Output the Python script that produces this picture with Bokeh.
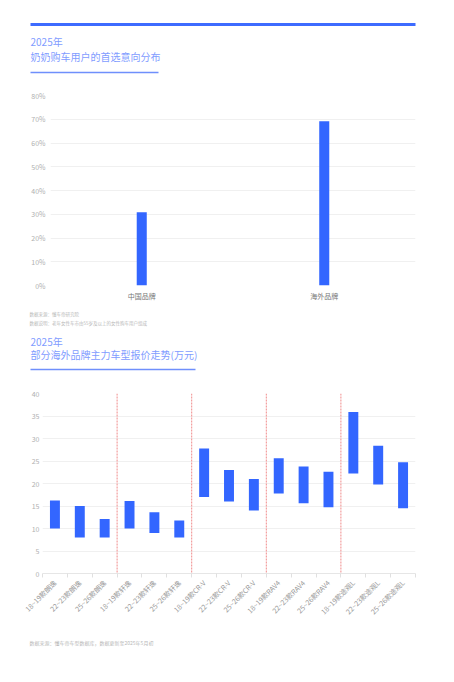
import math
from bokeh.plotting import figure
from bokeh.models import Range1d, FactorRange, FixedTicker, PrintfTickFormatter, Span
from bokeh.core.properties import value
from bokeh.embed import file_html
from bokeh.resources import INLINE

FONT = "Noto Sans CJK SC"
W = 454

# ---- data: chart 1 ----
brands = ["中国品牌", "海外品牌"]
share = [30.8, 69.2]
share_ticks = [0, 10, 20, 30, 40, 50, 60, 70, 80]

# ---- data: chart 2 ----
models = ["18~19款朗逸", "22~23款朗逸", "25~26款朗逸",
          "18~19款轩逸", "22~23款轩逸", "25~26款轩逸",
          "18~19款CR-V", "22~23款CR-V", "25~26款CR-V",
          "18~19款RAV4", "22~23款RAV4", "25~26款RAV4",
          "18~19款途观L", "22~23款途观L", "25~26款途观L"]
price_low = [10.0, 8.0, 8.0, 10.0, 9.0, 8.0, 17.0, 16.0, 14.0, 17.8, 15.6, 14.7, 22.2, 19.8, 14.5]
price_high = [16.2, 15.0, 12.1, 16.1, 13.6, 11.8, 27.8, 23.0, 21.0, 25.6, 23.8, 22.6, 35.9, 28.4, 24.7]
group_breaks = [3, 6, 9, 12]
price_ticks = [0, 5, 10, 15, 20, 25, 30, 35, 40]

BLUE = "#3366ff"
TITLE_BLUE = "#7f9cff"
LINE_BLUE = "#6f8ffc"
GRID = "#f0f0f0"


def deco(h):
    p = figure(width=W, height=h, x_range=Range1d(0, W), y_range=Range1d(h, 0),
               output_backend="svg", toolbar_location=None, min_border=0,
               x_axis_location=None, y_axis_location=None)
    p.grid.visible = False
    p.outline_line_color = None
    return p


def txt(p, x, y, s, size, color):
    p.text(x=[x], y=[y], text=[s], text_font=value(FONT), text_font_size=value(size),
           text_color=color, text_align="left", text_baseline="middle")


# ---- header 1 ----
h1 = deco(85)
h1.segment(x0=[30], y0=[24], x1=[415], y1=[24], line_width=3, line_color="#3d6bff")
txt(h1, 30, 41, "2025年", "10px", TITLE_BLUE)
txt(h1, 30, 55.7, "奶奶购车用户的首选意向分布", "10px", TITLE_BLUE)
h1.segment(x0=[30], y0=[72], x1=[158], y1=[72], line_width=1.5, line_color=LINE_BLUE)

# ---- chart 1 ----
p1 = figure(width=W, height=220, x_range=FactorRange(*brands), y_range=Range1d(0, 80),
            output_backend="svg", toolbar_location=None,
            min_border_top=10, min_border_bottom=20, min_border_left=50, min_border_right=39)
p1.vbar(x=brands, top=share, width=0.055, fill_color=BLUE, line_color=None)
p1.outline_line_color = None
p1.xgrid.visible = False
p1.ygrid.grid_line_color = GRID
p1.yaxis.ticker = FixedTicker(ticks=share_ticks)
p1.yaxis.formatter = PrintfTickFormatter(format="%d%%")
for ax in (p1.xaxis[0], p1.yaxis[0]):
    ax.axis_line_color = None
    ax.major_tick_line_color = None
    ax.minor_tick_line_color = None
    ax.major_tick_out = 0
    ax.major_tick_in = 0
    ax.major_label_text_font = FONT
    ax.major_label_text_font_size = "7px"
p1.yaxis.major_label_text_color = "#b0b0b0"
p1.yaxis.major_label_standoff = 5
p1.xaxis.major_label_text_color = "#777777"
p1.xaxis.major_label_standoff = 5

# ---- notes + header 2 ----
h2 = deco(80)
txt(h2, 29, 8.5, "数据来源：懂车帝研究院", "4.5px", "#b8b8b8")
txt(h2, 29, 17, "数据说明：老年女性车市由55岁及以上的女性购车用户组成", "4.5px", "#b8b8b8")
txt(h2, 30, 35.7, "2025年", "10px", TITLE_BLUE)
txt(h2, 30, 49, "部分海外品牌主力车型报价走势(万元)", "10px", TITLE_BLUE)
h2.segment(x0=[30], y0=[64], x1=[195], y1=[64], line_width=1.5, line_color=LINE_BLUE)

# ---- chart 2 ----
n = len(models)
centers = [i + 0.5 for i in range(n)]
p2 = figure(width=W, height=245, x_range=Range1d(0, n), y_range=Range1d(0, 40),
            output_backend="svg", toolbar_location=None,
            min_border_top=8, min_border_bottom=57, min_border_left=42, min_border_right=39)
p2.vbar(x=centers, bottom=price_low, top=price_high, width=0.4, fill_color=BLUE, line_color=None)
for b in group_breaks:
    p2.add_layout(Span(location=b, dimension="height", line_color="#f08a8a",
                       line_dash="2 1", line_width=1))
p2.outline_line_color = None
p2.xgrid.visible = False
p2.ygrid.grid_line_color = GRID
p2.yaxis.ticker = FixedTicker(ticks=price_ticks)
p2.yaxis.axis_line_color = None
p2.yaxis.major_tick_line_color = None
p2.yaxis.minor_tick_line_color = None
p2.yaxis.major_tick_out = 0
p2.yaxis.major_tick_in = 0
p2.yaxis.major_label_standoff = 3
p2.yaxis.major_label_text_color = "#b0b0b0"
p2.yaxis.major_label_text_font = FONT
p2.yaxis.major_label_text_font_size = "7px"
p2.xaxis.ticker = FixedTicker(ticks=centers, minor_ticks=list(range(n + 1)))
p2.xaxis.major_label_overrides = {c: m for c, m in zip(centers, models)}
p2.xaxis.major_label_orientation = math.pi / 4
p2.xaxis.axis_line_color = "#e6e6e6"
p2.xaxis.major_tick_line_color = None
p2.xaxis.major_tick_out = 0
p2.xaxis.major_tick_in = 0
p2.xaxis.minor_tick_line_color = "#e0e0e0"
p2.xaxis.minor_tick_out = 4
p2.xaxis.minor_tick_in = 0
p2.xaxis.major_label_standoff = 4
p2.xaxis.major_label_text_color = "#9a9a9a"
p2.xaxis.major_label_text_font = FONT
p2.xaxis.major_label_text_font_size = "7px"

# ---- footer ----
f = deco(52)
txt(f, 29, 12, "数据来源：懂车帝车型数据库，数据更新至2025年5月初", "5px", "#b8b8b8")

open("out.html", "w").write(file_html([h1, p1, h2, p2, f], INLINE))
